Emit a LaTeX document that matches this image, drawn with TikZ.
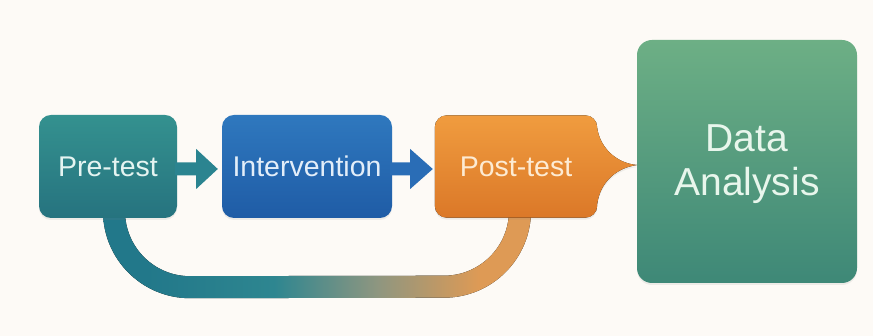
\documentclass[tikz,border=0pt]{standalone}
\usepackage{fontspec}
\setmainfont{Liberation Sans}
\usetikzlibrary{calc,shadows}

\definecolor{bgc}{HTML}{FDFAF6}
\definecolor{pretop}{HTML}{34918F}
\definecolor{prebot}{HTML}{26737F}
\definecolor{intop}{HTML}{2F78BE}
\definecolor{inbot}{HTML}{1F5CA6}
\definecolor{posttop}{HTML}{F09C3F}
\definecolor{postbot}{HTML}{DB7828}
\definecolor{datop}{HTML}{6DAF85}
\definecolor{dabot}{HTML}{3E8877}
\definecolor{arrowA}{HTML}{2B8490}
\definecolor{arrowB}{HTML}{2A6DB6}
\definecolor{loopteal}{HTML}{22788A}
\definecolor{looptealb}{HTML}{2E8690}
\definecolor{loopmid}{HTML}{8E9680}
\definecolor{looporange}{HTML}{DE9A55}
\definecolor{pretext}{HTML}{E4F4F1}
\definecolor{intext}{HTML}{E3EEF9}
\definecolor{posttext}{HTML}{FDEBD3}
\definecolor{datext}{HTML}{E8F6EC}

% colour run of the feedback loop, teal on the left to orange on the right
\pgfdeclarehorizontalshading{loopfade}{100bp}{color(0bp)=(loopteal); color(30bp)=(loopteal); color(45bp)=(looptealb); color(57bp)=(loopmid); color(69bp)=(looporange); color(100bp)=(looporange)}

\pgfdeclarelayer{background}
\pgfsetlayers{background,main}

\begin{document}
\begin{tikzpicture}[x=1pt,y=1pt,
  softshadow/.style={drop shadow={opacity=0.12, shadow xshift=0pt, shadow yshift=-2pt}},
  stage/.style={rounded corners=12pt, minimum height=103pt, inner sep=0pt,
    font=\fontsize{28.5}{32}\selectfont},
  bigstage/.style={rounded corners=15pt, minimum width=220pt, minimum height=243pt,
    inner sep=0pt, font=\fontsize{39}{44}\selectfont}]

\begin{pgfonlayer}{background}
  \fill[bgc] (0,0) rectangle (873,336);
\end{pgfonlayer}
\useasboundingbox (0,0) rectangle (873,336);

% stages
\node[stage, softshadow, minimum width=138pt, top color=pretop, bottom color=prebot, text=pretext]
  (pre) at (108,169.5) {Pre-test};
\node[stage, softshadow, minimum width=170pt, top color=intop, bottom color=inbot, text=intext]
  (inter) at (307,169.5) {Intervention};
\node[stage, minimum width=162pt, minimum height=102pt, text=posttext]
  (post) at (516,169.5) {Post-test};
\node[bigstage, softshadow, top color=datop, bottom color=dabot, text=datext]
  (data) at (747,174.5)
  {\raisebox{-3.5pt}[\height][\depth]{\begin{tabular}{@{}c@{}}Data\\Analysis\end{tabular}}};

% block arrows between the stages
\fill[arrowA] ($(pre.east)+(-2,4)$) -- ($(pre.east)+(19,4)$) -- ($(pre.east)+(19,17.5)$)
  -- ($(inter.west)+(-4,-2.5)$) -- ($(pre.east)+(19,-22.5)$) -- ($(pre.east)+(19,-9)$)
  -- ($(pre.east)+(-2,-9)$) -- cycle;
\fill[arrowB] ($(inter.east)+(-2,4)$) -- ($(inter.east)+(18,4)$) -- ($(inter.east)+(18,17.5)$)
  -- ($(post.west)+(-2,-2.5)$) -- ($(inter.east)+(18,-22.5)$) -- ($(inter.east)+(18,-9)$)
  -- ($(inter.east)+(-2,-9)$) -- cycle;

\begin{pgfonlayer}{background}
  % feedback loop from pre-test round to post-test
  \coordinate (la) at ($(pre.south)+(6,7)$);
  \coordinate (ra) at ($(post.south)+(4,7)$);
  \fill[shading=loopfade]
    ($(la)+(-11,14)$) -- ($(la)+(-11,0)$)
    arc[start angle=180, end angle=270, radius=87pt]
    -- ($(ra)+(-76,-87)$)
    arc[start angle=270, end angle=360, radius=87pt]
    -- ($(ra)+(11,14)$) -- ($(ra)+(-11,14)$) -- ($(ra)+(-11,0)$)
    arc[start angle=0, end angle=-90, radius=65pt]
    -- ($(la)+(76,-65)$)
    arc[start angle=270, end angle=180, radius=65pt]
    -- ($(la)+(11,14)$) -- cycle;

  % post-test box with its pointed tab towards the analysis
  \fill[softshadow, top color=posttop, bottom color=postbot]
    ($(post.north west)+(12,0)$) -- ($(post.north east)+(-12,0)$)
    arc[start angle=90, end angle=0, radius=12pt]
    -- ($(post.east)+(0,38.5)$)
    .. controls ($(post.east)+(3,18)$) and ($(post.east)+(20,3)$) .. ($(post.east)+(40,1.5)$)
    .. controls ($(post.east)+(20,-1)$) and ($(post.east)+(3,-15)$) .. ($(post.east)+(0,-37.5)$)
    -- ($(post.south east)+(0,12)$)
    arc[start angle=0, end angle=-90, radius=12pt]
    -- ($(post.south west)+(12,0)$)
    arc[start angle=270, end angle=180, radius=12pt]
    -- ($(post.north west)+(0,-12)$)
    arc[start angle=180, end angle=90, radius=12pt] -- cycle;
\end{pgfonlayer}
\end{tikzpicture}
\end{document}
